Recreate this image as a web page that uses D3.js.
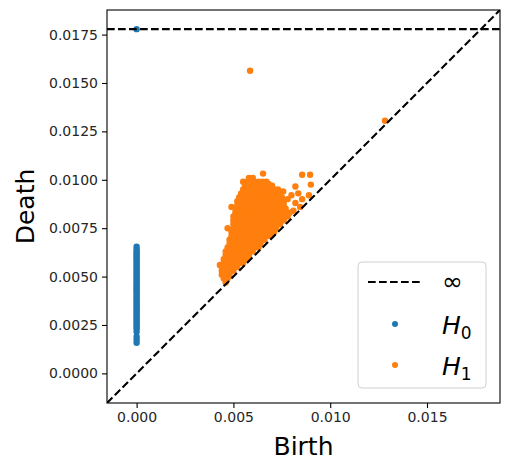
<!DOCTYPE html>
<html><head><meta charset="utf-8">
<script src="https://cdn.jsdelivr.net/npm/d3@7"></script>
<style>
html,body{margin:0;padding:0;background:#fff;}
text{font-family:"DejaVu Sans",sans-serif;}
</style></head>
<body><svg id="chart" width="505" height="462"></svg>
<script>
// ---- data ----
const xTicks = [0, 0.005, 0.010, 0.015];
const xTickLabels = ["0.000", "0.005", "0.010", "0.015"];
const yTicks = [0, 0.0025, 0.005, 0.0075, 0.010, 0.0125, 0.015, 0.0175];
const yTickLabels = ["0.0000", "0.0025", "0.0050", "0.0075", "0.0100", "0.0125", "0.0150", "0.0175"];
const axisMin = -0.00153, axisMax = 0.01877;
const infValue = 0.01778;
const h0Births = 0;
const h0Deaths = [0.00158, 0.00175, 0.0019, 0.00215, 0.0023, 0.0024, 0.0025, 0.0026, 0.0027, 0.0028, 0.0029,
  0.0030, 0.0031, 0.0032, 0.0033, 0.0034, 0.0035, 0.0036, 0.0037, 0.0038, 0.0039, 0.0040, 0.0041, 0.0042,
  0.0043, 0.0044, 0.0045, 0.0046, 0.0047, 0.0048, 0.0049, 0.0050, 0.0051, 0.0052, 0.0053, 0.0054, 0.0055,
  0.0056, 0.0057, 0.0058, 0.0059, 0.0060, 0.0061, 0.0062, 0.0063, 0.0064, 0.00654];
const h0Infinite = [[0, infValue]];
// H1 dense cloud: rows of [death, births]
const h1Rows = [
  [0.0047, [0.0046]],
  [0.0049, [0.0045, 0.0047]],
  [0.0051, [0.0044, 0.0046, 0.0048]],
  [0.0053, [0.0044, 0.0046, 0.0048, 0.0050]],
  [0.0055, [0.0044, 0.0046, 0.0048, 0.0050, 0.0052]],
  [0.0057, [0.0045, 0.0047, 0.0049, 0.0051, 0.0053, 0.0055]],
  [0.0059, [0.0045, 0.0047, 0.0049, 0.0051, 0.0053, 0.0055, 0.0057]],
  [0.0061, [0.0046, 0.0048, 0.0050, 0.0052, 0.0054, 0.0056, 0.0058]],
  [0.0063, [0.0046, 0.0048, 0.0050, 0.0052, 0.0054, 0.0056, 0.0058, 0.0060]],
  [0.0065, [0.0047, 0.0049, 0.0051, 0.0053, 0.0055, 0.0057, 0.0059, 0.0061, 0.0063]],
  [0.0067, [0.0048, 0.0050, 0.0052, 0.0054, 0.0056, 0.0058, 0.0060, 0.0062, 0.0064]],
  [0.0069, [0.0048, 0.0050, 0.0052, 0.0054, 0.0056, 0.0058, 0.0060, 0.0062, 0.0064, 0.0066]],
  [0.0071, [0.0049, 0.0051, 0.0053, 0.0055, 0.0057, 0.0059, 0.0061, 0.0063, 0.0065, 0.0067, 0.0069]],
  [0.0073, [0.0049, 0.0051, 0.0053, 0.0055, 0.0057, 0.0059, 0.0061, 0.0063, 0.0065, 0.0067, 0.0069, 0.0071]],
  [0.0075, [0.0050, 0.0052, 0.0054, 0.0056, 0.0058, 0.0060, 0.0062, 0.0064, 0.0066, 0.0068, 0.0070, 0.0072]],
  [0.0077, [0.0050, 0.0052, 0.0054, 0.0056, 0.0058, 0.0060, 0.0062, 0.0064, 0.0066, 0.0068, 0.0070, 0.0072, 0.0074]],
  [0.0079, [0.0050, 0.0052, 0.0054, 0.0056, 0.0058, 0.0060, 0.0062, 0.0064, 0.0066, 0.0068, 0.0070, 0.0072, 0.0074, 0.0076]],
  [0.0081, [0.0050, 0.0052, 0.0054, 0.0056, 0.0058, 0.0060, 0.0062, 0.0064, 0.0066, 0.0068, 0.0070, 0.0072, 0.0074, 0.0076, 0.0078]],
  [0.0083, [0.0051, 0.0053, 0.0055, 0.0057, 0.0059, 0.0061, 0.0063, 0.0065, 0.0067, 0.0069, 0.0071, 0.0073, 0.0075, 0.0077, 0.0079]],
  [0.0085, [0.0051, 0.0053, 0.0055, 0.0057, 0.0059, 0.0061, 0.0063, 0.0065, 0.0067, 0.0069, 0.0071, 0.0073, 0.0075, 0.0077]],
  [0.0087, [0.0052, 0.0054, 0.0056, 0.0058, 0.0060, 0.0062, 0.0064, 0.0066, 0.0068, 0.0070, 0.0072, 0.0074, 0.0076]],
  [0.0089, [0.0052, 0.0054, 0.0056, 0.0058, 0.0060, 0.0062, 0.0064, 0.0066, 0.0068, 0.0070, 0.0072, 0.0074, 0.0076]],
  [0.0091, [0.0053, 0.0055, 0.0057, 0.0059, 0.0061, 0.0063, 0.0065, 0.0067, 0.0069, 0.0071, 0.0073, 0.0075]],
  [0.0093, [0.0054, 0.0056, 0.0058, 0.0060, 0.0062, 0.0064, 0.0066, 0.0068, 0.0070, 0.0072, 0.0074]],
  [0.0095, [0.0055, 0.0057, 0.0059, 0.0061, 0.0063, 0.0065, 0.0067, 0.0069, 0.0071, 0.0073]],
  [0.0097, [0.0056, 0.0058, 0.0060, 0.0062, 0.0064, 0.0066, 0.0068, 0.0070]],
  [0.0099, [0.0057, 0.0059, 0.0061, 0.0063, 0.0065, 0.0067]],
  [0.0101, [0.0058, 0.0060]]
];
// H1 scattered points [birth, death]
const h1Extra = [
  [0.00653, 0.01032], [0.0068, 0.0098], [0.00855, 0.01026], [0.00896, 0.01026], [0.0090, 0.00975],
  [0.0082, 0.00965], [0.00835, 0.0093], [0.0089, 0.0092], [0.00757, 0.0094], [0.0080, 0.0092],
  [0.00855, 0.0090], [0.0082, 0.0088], [0.00845, 0.0086], [0.0078, 0.0090], [0.0081, 0.0084],
  [0.0043, 0.0056], [0.0047, 0.0075], [0.0049, 0.0086], [0.0055, 0.0099], [0.0069, 0.0097],
  [0.00586, 0.01563], [0.01283, 0.01305]
];
const legendLabels = ["\u221E", "H", "H"];
const legendSubs = ["", "0", "1"];

// ---- chart ----
const W = 505, H = 462;
const m = {left: 107, right: 5, top: 10, bottom: 59};
const svg = d3.select("#chart");
const x = d3.scaleLinear().domain([axisMin, axisMax]).range([m.left, W - m.right]);
const y = d3.scaleLinear().domain([axisMin, axisMax]).range([H - m.bottom, m.top]);
const c0 = "#1f77b4", c1 = "#ff7f0e";
const R = 3.2;

const plot = svg.append("g");
plot.append("clipPath").attr("id", "clip").append("rect")
  .attr("x", m.left).attr("y", m.top).attr("width", W - m.left - m.right).attr("height", H - m.top - m.bottom);
const inner = plot.append("g").attr("clip-path", "url(#clip)");

// H0 points
inner.append("g").selectAll("circle").data(h0Deaths.map(d => [h0Births, d]).concat(h0Infinite)).join("circle")
  .attr("cx", d => x(d[0])).attr("cy", d => y(d[1])).attr("r", R).attr("fill", c0);

// H1 points
const h1Points = [];
h1Rows.forEach(([d, bs]) => bs.forEach(b => h1Points.push([b, d])));
h1Extra.forEach(p => h1Points.push(p));
inner.append("g").selectAll("circle").data(h1Points).join("circle")
  .attr("cx", d => x(d[0])).attr("cy", d => y(d[1])).attr("r", R).attr("fill", c1);

// lines on top
const dash = "7.7,3.3";
inner.append("line").attr("x1", x(axisMin)).attr("y1", y(axisMin)).attr("x2", x(axisMax)).attr("y2", y(axisMax))
  .attr("stroke", "#000").attr("stroke-width", 2.1).attr("stroke-dasharray", dash);
inner.append("line").attr("x1", x(axisMin)).attr("y1", y(infValue)).attr("x2", x(axisMax)).attr("y2", y(infValue))
  .attr("stroke", "#000").attr("stroke-width", 2.1).attr("stroke-dasharray", dash);

// axes
const xAxis = svg.append("g").attr("transform", `translate(0,${H - m.bottom})`)
  .call(d3.axisBottom(x).tickValues(xTicks).tickFormat((d, i) => xTickLabels[i]).tickSize(5).tickPadding(4));
const yAxis = svg.append("g").attr("transform", `translate(${m.left},0)`)
  .call(d3.axisLeft(y).tickValues(yTicks).tickFormat((d, i) => yTickLabels[i]).tickSize(5).tickPadding(4));
[xAxis, yAxis].forEach(a => {
  a.select(".domain").remove();
  a.selectAll("text").attr("font-size", 14).attr("fill", "#262626").attr("font-family", "DejaVu Sans");
  a.selectAll("line").attr("stroke", "#000").attr("stroke-width", 1.1);
});
svg.append("rect").attr("x", m.left).attr("y", m.top).attr("width", W - m.left - m.right).attr("height", H - m.top - m.bottom)
  .attr("fill", "none").attr("stroke", "#000").attr("stroke-width", 1.1);

// axis labels
svg.append("text").attr("x", (m.left + W - m.right) / 2).attr("y", 455).attr("text-anchor", "middle")
  .attr("font-size", 25).text("Birth");
svg.append("text").attr("transform", `translate(34,${(m.top + H - m.bottom) / 2}) rotate(-90)`).attr("text-anchor", "middle")
  .attr("font-size", 25).text("Death");

// legend
const lg = svg.append("g");
lg.append("rect").attr("x", 358).attr("y", 262).attr("width", 128).attr("height", 126).attr("rx", 4)
  .attr("fill", "#fff").attr("fill-opacity", 0.8).attr("stroke", "#d0d0d0").attr("stroke-width", 1);
lg.append("line").attr("x1", 368).attr("x2", 421).attr("y1", 282).attr("y2", 282)
  .attr("stroke", "#000").attr("stroke-width", 2.1).attr("stroke-dasharray", dash);
lg.append("circle").attr("cx", 395).attr("cy", 324).attr("r", 3).attr("fill", c0);
lg.append("circle").attr("cx", 395).attr("cy", 365).attr("r", 3).attr("fill", c1);
const ys = [290, 334, 375];
legendLabels.forEach((t, i) => {
  const tx = lg.append("text").attr("x", 442).attr("y", ys[i]).attr("font-size", 25);
  if (legendSubs[i]) {
    tx.attr("font-style", "italic").text(t);
    tx.append("tspan").attr("font-style", "normal").attr("font-size", 17).attr("dy", 5).text(legendSubs[i]);
  } else {
    tx.text(t);
  }
});
</script></body></html>
